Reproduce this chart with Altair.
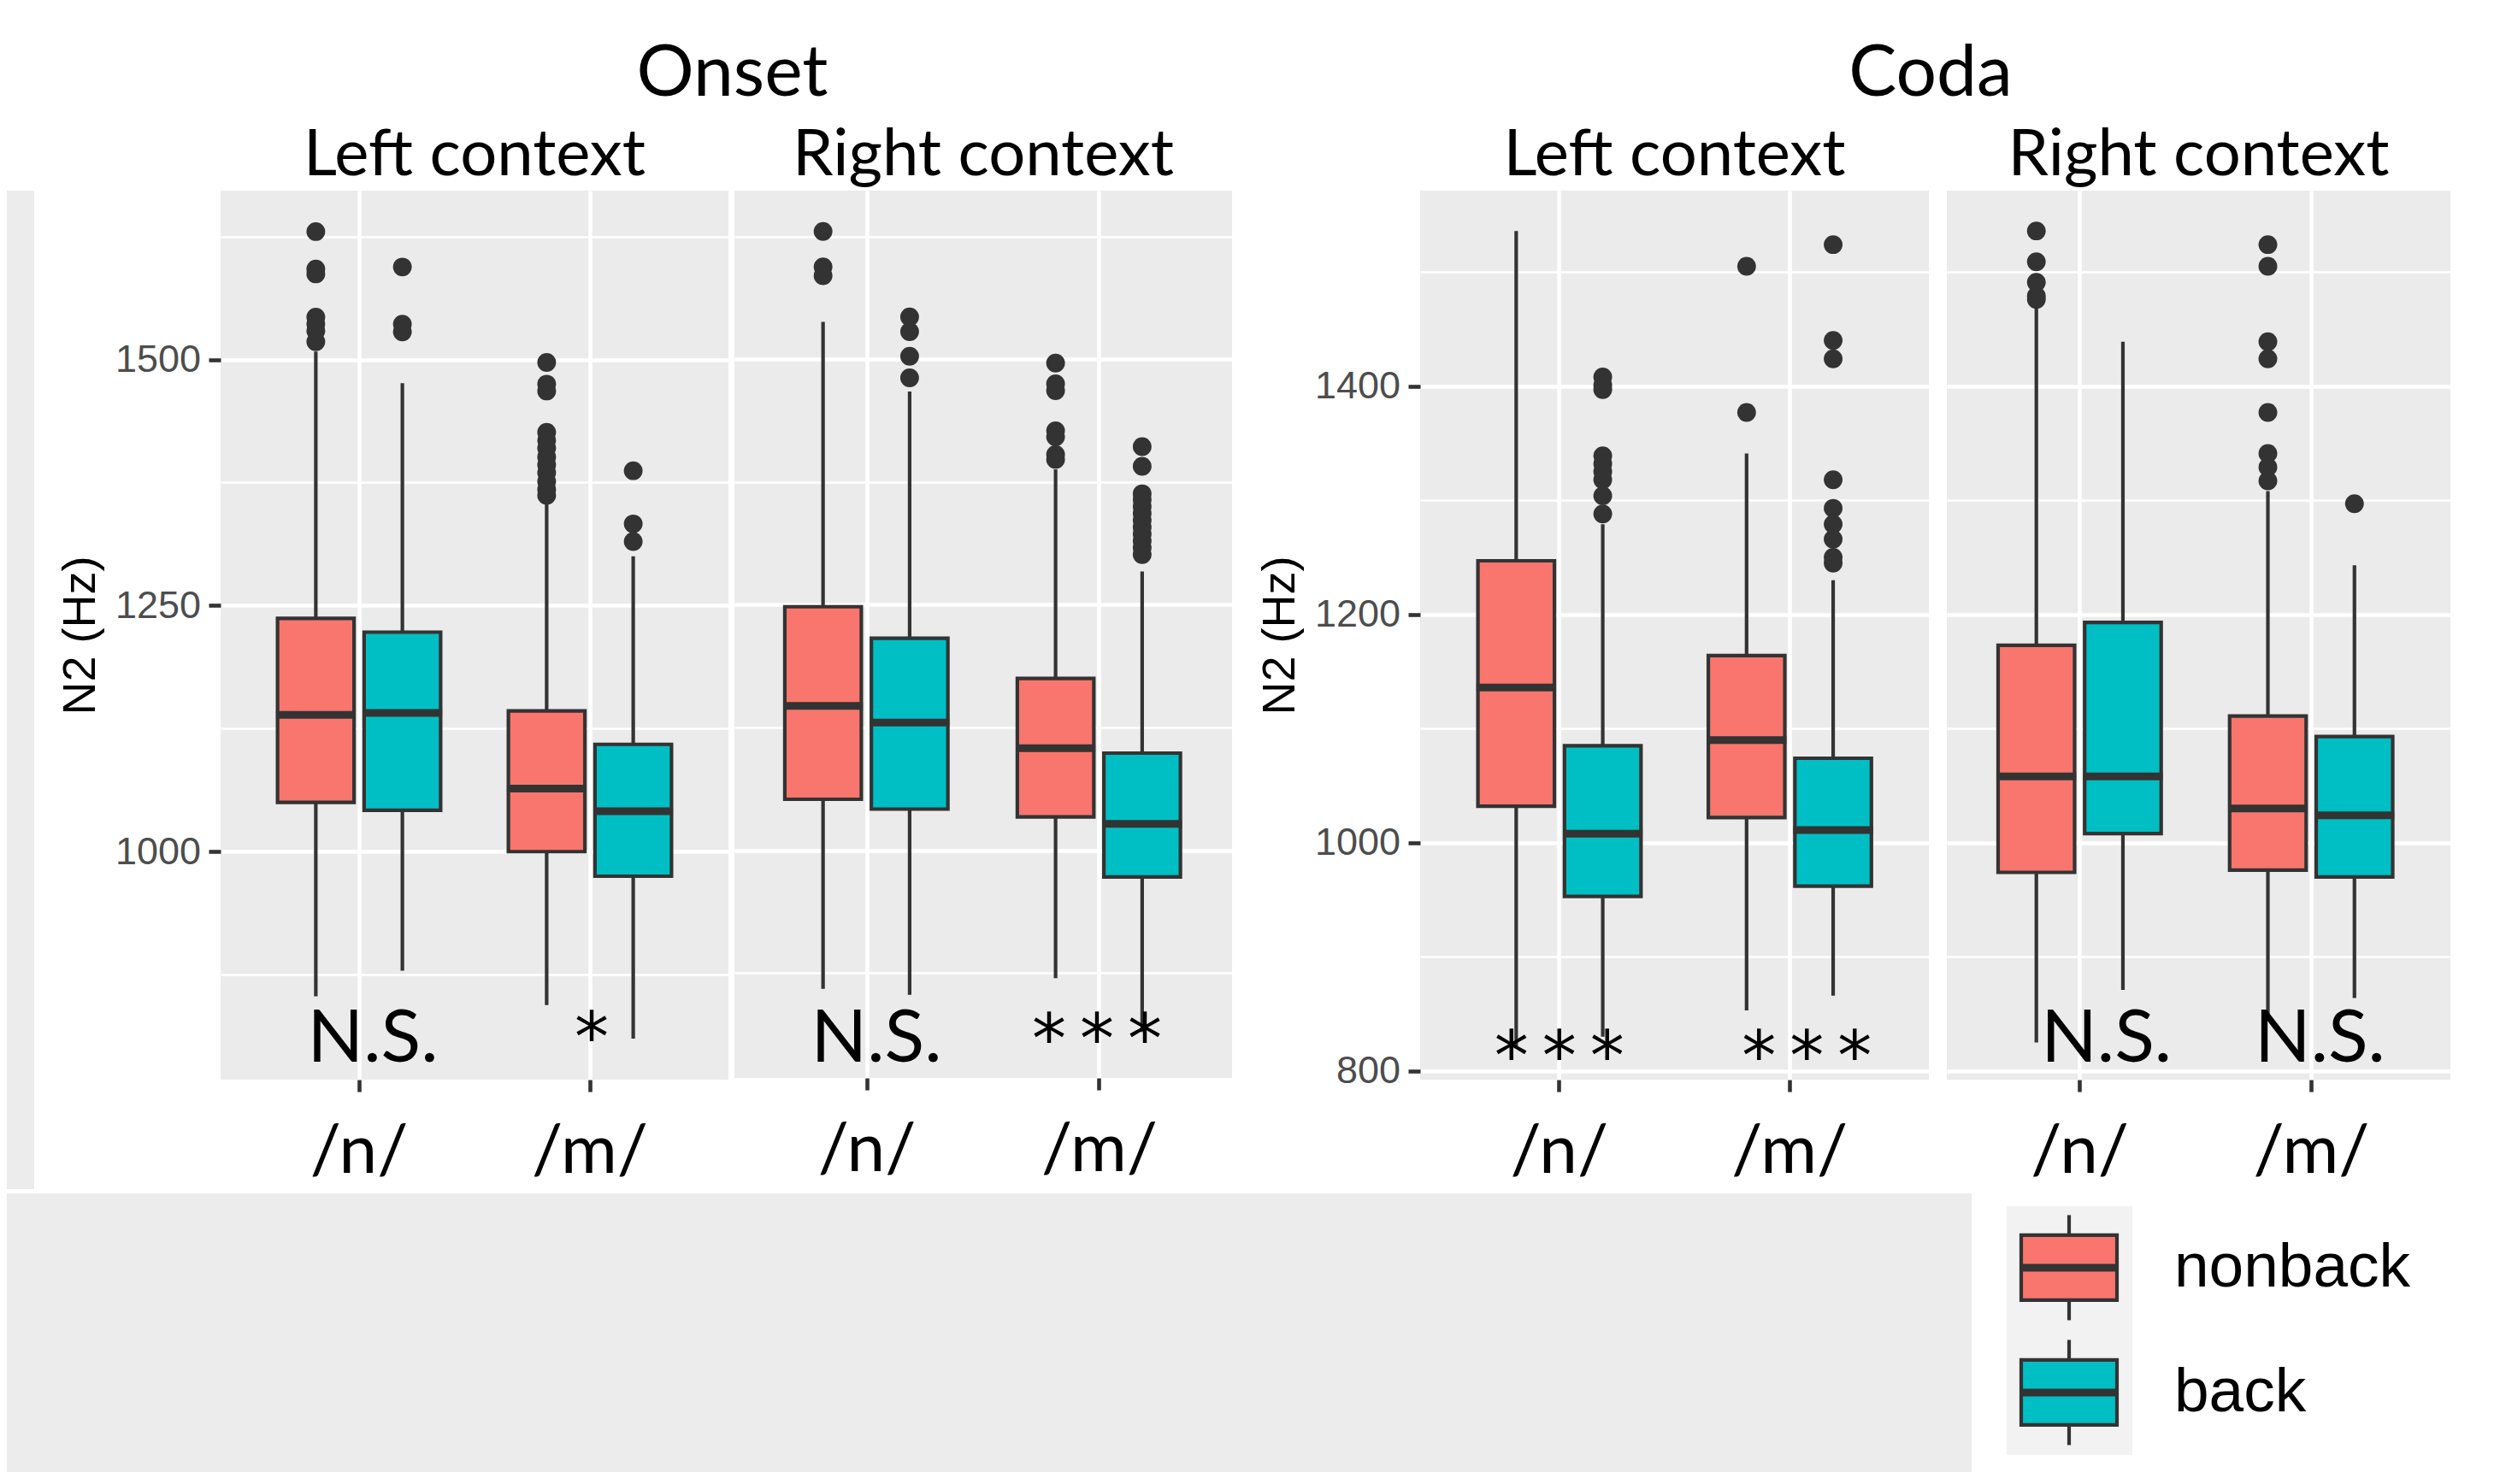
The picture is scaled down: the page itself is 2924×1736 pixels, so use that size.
import altair as alt
import pandas as pd

GROUPS = ["nonback", "back"]
PHONEMES = ["/n/", "/m/"]
COLORS = ["#F8766D", "#00BFC4"]

# order of boxes inside every panel
BOX_PHONEME = ["/n/", "/n/", "/m/", "/m/"]
BOX_GROUP = ["nonback", "back", "nonback", "back"]

# ---------- Onset, left context ----------
onset_left_lower = [853, 879, 844, 810]
onset_left_q1 = [1050, 1042, 1000, 975]
onset_left_median = [1139, 1141, 1064, 1041]
onset_left_q3 = [1237, 1223, 1143, 1109]
onset_left_upper = [1508, 1476, 1353, 1300]
onset_left_outliers = [
    [1630, 1592, 1587, 1543, 1536, 1529, 1518],
    [1594, 1536, 1528],
    [1497, 1475, 1468, 1426, 1418, 1410, 1401, 1393, 1385, 1376, 1368, 1362],
    [1387, 1333, 1315],
]
onset_left_marks = ["N.S.", "*"]

# ---------- Onset, right context ----------
onset_right_lower = [859, 853, 870, 815]
onset_right_q1 = [1052, 1042, 1034, 973]
onset_right_median = [1147, 1130, 1104, 1027]
onset_right_q3 = [1248, 1216, 1175, 1099]
onset_right_upper = [1538, 1467, 1388, 1284]
onset_right_outliers = [
    [1630, 1594, 1585],
    [1543, 1528, 1503, 1481],
    [1496, 1475, 1468, 1427, 1421, 1403, 1398],
    [1411, 1391, 1363, 1357, 1350, 1343, 1336, 1329, 1322, 1315, 1308, 1301],
]
onset_right_marks = ["N.S.", "***"]

# ---------- Coda, left context ----------
coda_left_lower = [820, 830, 853, 866]
coda_left_q1 = [1032, 953, 1022, 962]
coda_left_median = [1136, 1008, 1090, 1011]
coda_left_q3 = [1247, 1085, 1164, 1074]
coda_left_upper = [1536, 1279, 1341, 1230]
coda_left_outliers = [
    [],
    [1408, 1401, 1397, 1339, 1332, 1325, 1318, 1304, 1288],
    [1505, 1377],
    [1524, 1440, 1424, 1318, 1293, 1279, 1266, 1250, 1245],
]
coda_left_marks = ["***", "***"]

# ---------- Coda, right context ----------
coda_right_lower = [825, 871, 845, 864]
coda_right_q1 = [974, 1008, 976, 970]
coda_right_median = [1058, 1058, 1030, 1024]
coda_right_q3 = [1173, 1193, 1111, 1093]
coda_right_upper = [1468, 1439, 1308, 1243]
coda_right_outliers = [
    [1536, 1509, 1491, 1479, 1476],
    [],
    [1524, 1505, 1439, 1424, 1377, 1341, 1329, 1317],
    [1297],
]
coda_right_marks = ["N.S.", "N.S."]

ONSET_DOMAIN = [768.3, 1671.6]
CODA_DOMAIN = [792.4, 1571.3]
ONSET_TICKS = [875, 1000, 1125, 1250, 1375, 1500, 1625]
CODA_TICKS = [800, 900, 1000, 1100, 1200, 1300, 1400, 1500]

BOX_LINE = "#333333"
PANEL_BG = "#EBEBEB"
PAGE_GRAY = "#ECECEC"
LINE_W = 4.2


def box_frame(lower, q1, med, q3, upper):
    return pd.DataFrame({"phoneme": BOX_PHONEME, "group": BOX_GROUP, "lower": lower,
                         "q1": q1, "median": med, "q3": q3, "upper": upper})


def outlier_frame(outs):
    rows = []
    for ph, g, vals in zip(BOX_PHONEME, BOX_GROUP, outs):
        for v in vals:
            rows.append({"phoneme": ph, "group": g, "value": v})
    return pd.DataFrame(rows, columns=["phoneme", "group", "value"])


def y_axis(values, step, show):
    major = f"datum.value % {step} === 0"
    grid_w = {"condition": {"test": major, "value": 4.6}, "value": 2.3}
    if show:
        return alt.Axis(values=values, format="d", title="N2 (Hz)",
                        labelExpr=f"{major} ? datum.label : ''",
                        labelFont="Liberation Sans", labelFontSize=45, labelColor="#4D4D4D",
                        labelPadding=9.5, tickSize=14, tickColor=BOX_LINE,
                        tickWidth={"condition": {"test": major, "value": 4.6}, "value": 0},
                        domain=False, grid=True, gridColor="white", gridWidth=grid_w,
                        minExtent=124, maxExtent=124, titlePadding=13,
                        titleFont="Liberation Sans", titleFontSize=54, titleFontWeight="normal",
                        titleColor="black")
    return alt.Axis(values=values, labels=False, ticks=False, domain=False, title=None,
                    grid=True, gridColor="white", gridWidth=grid_w, minExtent=0, maxExtent=0)


def panel(boxes, outs, marks, title, domain, ticks, step, width, height, pad_outer, align,
          show_axis, ann_style, page_strip=False):
    xs = alt.Scale(domain=PHONEMES, paddingInner=0.25, paddingOuter=pad_outer, align=align)
    xax = alt.Axis(title=None, labelFont="Lato", labelFontSize=80, labelColor="black",
                   labelPadding=31, labelAngle=0, tickSize=14, tickWidth=4.6, tickColor=BOX_LINE,
                   domain=False, grid=True, gridColor="white", gridWidth=4.6)
    X = alt.X("phoneme:N", scale=xs, axis=xax)
    XO = alt.XOffset("group:N", scale=alt.Scale(domain=GROUPS, paddingInner=0.116, paddingOuter=0.058))
    ys = alt.Scale(domain=domain, nice=False, zero=False)
    yax = y_axis(ticks, step, show_axis)

    base = alt.Chart(boxes)
    lo = base.mark_rule(color=BOX_LINE, strokeWidth=LINE_W).encode(
        x=X, xOffset=XO, y=alt.Y("lower:Q", scale=ys, axis=yax), y2="q1:Q")
    hi = base.mark_rule(color=BOX_LINE, strokeWidth=LINE_W).encode(
        x=X, xOffset=XO, y=alt.Y("q3:Q", scale=ys, axis=yax), y2="upper:Q")
    box = base.mark_bar(stroke=BOX_LINE, strokeWidth=LINE_W, opacity=1).encode(
        x=X, xOffset=XO, y=alt.Y("q1:Q", scale=ys, axis=yax), y2="q3:Q",
        color=alt.Color("group:N", scale=alt.Scale(domain=GROUPS, range=COLORS), legend=None))
    med = base.mark_tick(color=BOX_LINE, thickness=9, size=93, orient="horizontal", opacity=1).encode(
        x=X, xOffset=XO, y=alt.Y("median:Q", scale=ys, axis=yax))
    pts = alt.Chart(outs).mark_circle(size=480, color=BOX_LINE, opacity=1).encode(
        x=X, xOffset=XO, y=alt.Y("value:Q", scale=ys, axis=yax))

    layers = [lo, hi, box, med, pts]
    if page_strip:
        # grey page margin at the left edge of the slide
        layers.insert(0, alt.Chart(pd.DataFrame({"k": [0]})).mark_rect(color=PAGE_GRAY).encode(
            x=alt.value(-250), x2=alt.value(-218), y=alt.value(0), y2=alt.value(1168)))
    ann = pd.DataFrame({"phoneme": PHONEMES, "label": marks})
    for ph, mk, (dx, ypix) in zip(PHONEMES, marks, ann_style):
        stars = "*" in mk
        expr = "join(split(datum.label, ''), '\u2009')" if stars else "datum.label"
        layers.append(
            alt.Chart(ann).transform_filter(alt.datum.phoneme == ph)
            .transform_calculate(shown=expr)
            .mark_text(font="DejaVu Sans" if stars else "Lato", fontSize=80 if stars else 86,
                       color="black", align="center", baseline="alphabetic", dx=dx)
            .encode(x=X, y=alt.value(ypix), text="shown:N"))

    return alt.layer(*layers).properties(
        width=width, height=height,
        view=alt.ViewBackground(fill=PANEL_BG, strokeWidth=0),
        title=alt.TitleParams(title, font="Lato", fontSize=76, fontWeight="normal", color="black",
                              anchor="middle", frame="group", baseline="alphabetic",
                              offset=-58))


OL = panel(box_frame(onset_left_lower, onset_left_q1, onset_left_median, onset_left_q3, onset_left_upper),
           outlier_frame(onset_left_outliers), onset_left_marks, "Left context",
           ONSET_DOMAIN, ONSET_TICKS, 250, 594, 1040, 0.225, 0.5, True, [(16, 1019), (2, 1018)],
           page_strip=True)
OR = panel(box_frame(onset_right_lower, onset_right_q1, onset_right_median, onset_right_q3, onset_right_upper),
           outlier_frame(onset_right_outliers), onset_right_marks, "Right context",
           ONSET_DOMAIN, ONSET_TICKS, 250, 582, 1038, 0.195, 0.5, False, [(11, 1019), (-3, 1020)])
CL = panel(box_frame(coda_left_lower, coda_left_q1, coda_left_median, coda_left_q3, coda_left_upper),
           outlier_frame(coda_left_outliers), coda_left_marks, "Left context",
           CODA_DOMAIN, CODA_TICKS, 200, 595, 1040, 0.229, 0.5, True, [(0, 1040), (20, 1040)])
CR = panel(box_frame(coda_right_lower, coda_right_q1, coda_right_median, coda_right_q3, coda_right_upper),
           outlier_frame(coda_right_outliers), coda_right_marks, "Right context",
           CODA_DOMAIN, CODA_TICKS, 200, 589, 1040, 0.2125, 0.47, False, [(31, 1019), (10, 1019)])

group_title = dict(font="Lato", fontSize=84, fontWeight="normal", color="black",
                   anchor="middle", baseline="alphabetic", offset=-52)
onset = alt.hconcat(OL, OR, spacing=7).properties(
    title=alt.TitleParams("Onset", frame="bounds", dx=132, **group_title))
coda = alt.hconcat(CL, CR, spacing=21).properties(
    title=alt.TitleParams("Coda", frame="bounds", dx=90, **group_title))
top = alt.hconcat(onset, coda, spacing=29)

# legend drawn as boxplot glyphs
LEG_H = 326
leg = pd.DataFrame({"group": GROUPS})
LY = alt.Y("group:N", sort=GROUPS,
           scale=alt.Scale(domain=GROUPS, paddingInner=0, paddingOuter=0.1164, align=0.41), axis=None)
leg_base = alt.Chart(leg)
leg_bg = alt.Chart(pd.DataFrame({"k": [0]})).mark_rect(color="#F2F2F2").encode(
    x=alt.value(0), x2=alt.value(147), y=alt.value(15), y2=alt.value(306))
leg_whisker = leg_base.mark_tick(orient="vertical", size=123, thickness=LINE_W, color=BOX_LINE, opacity=1).encode(
    x=alt.value(73), y=LY)
leg_box = leg_base.mark_bar(height=76, stroke=BOX_LINE, strokeWidth=LINE_W, opacity=1).encode(
    x=alt.value(17), x2=alt.value(129), y=LY,
    color=alt.Color("group:N", scale=alt.Scale(domain=GROUPS, range=COLORS), legend=None))
leg_med = leg_base.mark_tick(orient="horizontal", size=116, thickness=9, color=BOX_LINE, opacity=1).encode(
    x=alt.value(73), y=LY)
leg_text = leg_base.mark_text(align="left", baseline="middle", font="Liberation Sans", fontSize=73,
                              color="black").encode(x=alt.value(196), y=LY, text="group:N")
legend = alt.layer(leg_bg, leg_whisker, leg_box, leg_med, leg_text).properties(
    width=147, height=LEG_H, view=alt.ViewBackground(fill="white", strokeWidth=0))

# grey page area below the slide (left of the legend box)
filler = alt.Chart(pd.DataFrame({"k": [0]})).mark_rect(color=PAGE_GRAY).encode(
    x=alt.value(-250), x2=alt.value(2048), y=alt.value(0), y2=alt.value(LEG_H)).properties(
    width=2048, height=LEG_H, view=alt.ViewBackground(strokeWidth=0))
bottom = alt.hconcat(filler, legend, spacing=41)

chart = alt.vconcat(top, bottom, spacing=5).properties(
    padding={"left": 0, "top": 37, "right": 0, "bottom": 0}
).configure(background="white").configure_view(strokeWidth=0)

chart.save("out.html", embed_options={"renderer": "svg", "actions": False})
